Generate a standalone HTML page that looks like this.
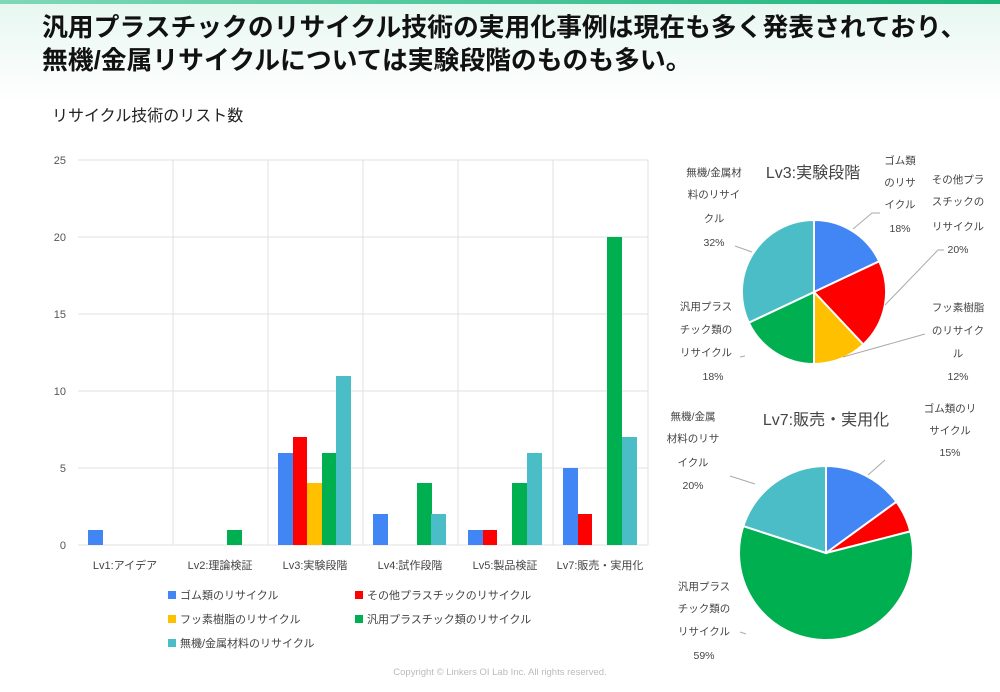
<!DOCTYPE html><html><head><meta charset="utf-8"><style>
body{margin:0;width:1000px;height:692px;overflow:hidden;font-family:"Liberation Sans","Noto Sans CJK JP",sans-serif;background:#fff;position:relative}
.top{position:absolute;left:0;top:0;width:1000px;height:4px;background:linear-gradient(90deg,#7fd8b8,#19b47a)}
.hdr{position:absolute;left:0;top:4px;width:1000px;height:100px;background:linear-gradient(180deg,#e8f7f1,#fff)}
h1{position:absolute;left:42px;top:12px;margin:0;font-size:25.8px;line-height:33px;font-weight:bold;color:#111;white-space:nowrap}
</style></head><body>
<div class="hdr"></div><div class="top"></div>
<h1>汎用プラスチックのリサイクル技術の実用化事例は現在も多く発表されており、<br>無機/金属リサイクルについては実験段階のものも多い。</h1>
<svg width="1000" height="692" style="position:absolute;left:0;top:0" font-family="Liberation Sans,Noto Sans CJK JP,sans-serif">
<text x="52" y="121" font-size="16" fill="#222">リサイクル技術のリスト数</text>
<g stroke="#e0e0e0" stroke-width="1">
<line x1="78" y1="160" x2="648" y2="160"/><line x1="78" y1="237" x2="648" y2="237"/><line x1="78" y1="314" x2="648" y2="314"/><line x1="78" y1="391" x2="648" y2="391"/><line x1="78" y1="468" x2="648" y2="468"/><line x1="78" y1="545" x2="648" y2="545"/>
<line x1="173" y1="160" x2="173" y2="545"/><line x1="268" y1="160" x2="268" y2="545"/><line x1="363" y1="160" x2="363" y2="545"/><line x1="458" y1="160" x2="458" y2="545"/><line x1="553" y1="160" x2="553" y2="545"/><line x1="648" y1="160" x2="648" y2="545"/>
</g>
<g font-size="11" fill="#555" text-anchor="end"><text x="66" y="164">25</text><text x="66" y="241">20</text><text x="66" y="318">15</text><text x="66" y="395">10</text><text x="66" y="472">5</text><text x="66" y="549">0</text></g>
<g>
<rect x="88" y="530" width="15" height="15" fill="#4285f4"/>
<rect x="227" y="530" width="15" height="15" fill="#00b050"/>
<rect x="278" y="453" width="15" height="92" fill="#4285f4"/><rect x="293" y="437" width="14" height="108" fill="#ff0000"/><rect x="307" y="483" width="15" height="62" fill="#ffc000"/><rect x="322" y="453" width="14" height="92" fill="#00b050"/><rect x="336" y="376" width="15" height="169" fill="#4bbdc6"/>
<rect x="373" y="514" width="15" height="31" fill="#4285f4"/><rect x="417" y="483" width="15" height="62" fill="#00b050"/><rect x="431" y="514" width="15" height="31" fill="#4bbdc6"/>
<rect x="468" y="530" width="15" height="15" fill="#4285f4"/><rect x="483" y="530" width="14" height="15" fill="#ff0000"/><rect x="512" y="483" width="15" height="62" fill="#00b050"/><rect x="527" y="453" width="15" height="92" fill="#4bbdc6"/>
<rect x="563" y="468" width="15" height="77" fill="#4285f4"/><rect x="578" y="514" width="14" height="31" fill="#ff0000"/><rect x="607" y="237" width="15" height="308" fill="#00b050"/><rect x="622" y="437" width="15" height="108" fill="#4bbdc6"/>
</g>
<g font-size="11" fill="#444" text-anchor="middle"><text x="125" y="569">Lv1:アイデア</text><text x="220" y="569">Lv2:理論検証</text><text x="315" y="569">Lv3:実験段階</text><text x="410" y="569">Lv4:試作段階</text><text x="505" y="569">Lv5:製品検証</text><text x="600" y="569">Lv7:販売・実用化</text></g>
<g font-size="11" fill="#444">
<rect x="168" y="591" width="8" height="8" fill="#4285f4"/><text x="180" y="599">ゴム類のリサイクル</text>
<rect x="355" y="591" width="8" height="8" fill="#ff0000"/><text x="367" y="599">その他プラスチックのリサイクル</text>
<rect x="168" y="615" width="8" height="8" fill="#ffc000"/><text x="180" y="623">フッ素樹脂のリサイクル</text>
<rect x="355" y="615" width="8" height="8" fill="#00b050"/><text x="367" y="623">汎用プラスチック類のリサイクル</text>
<rect x="168" y="639" width="8" height="8" fill="#4bbdc6"/><text x="180" y="647">無機/金属材料のリサイクル</text>
</g>
<g stroke="#fff" stroke-width="2">
<path d="M814,292 L814,220 A72,72 0 0 1 879.2,261.3Z" fill="#4285f4"/>
<path d="M814,292 L879.2,261.3 A72,72 0 0 1 863.3,344.5Z" fill="#ff0000"/>
<path d="M814,292 L863.3,344.5 A72,72 0 0 1 814,364Z" fill="#ffc000"/>
<path d="M814,292 L814,364 A72,72 0 0 1 748.8,322.7Z" fill="#00b050"/>
<path d="M814,292 L748.8,322.7 A72,72 0 0 1 814,220Z" fill="#4bbdc6"/>
<path d="M826,553 L826,466 A87,87 0 0 1 896.4,501.8Z" fill="#4285f4"/>
<path d="M826,553 L896.4,501.8 A87,87 0 0 1 910.3,531.4Z" fill="#ff0000"/>
<path d="M826,553 L910.3,531.4 A87,87 0 1 1 743.3,526.1Z" fill="#00b050"/>
<path d="M826,553 L743.3,526.1 A87,87 0 0 1 826,466Z" fill="#4bbdc6"/>
</g>
<g stroke="#aaa" stroke-width="1" fill="none">
<polyline points="853,229 872,213 880,213"/><polyline points="885,305 938,250 944,250"/><polyline points="843,357 925,334"/><polyline points="740,357 745,356"/><polyline points="752,252 735,246"/>
<polyline points="868,475 885,460"/><polyline points="755,484 730,476"/><polyline points="740,632 746,634"/>
</g>
<text x="813" y="178" font-size="16" fill="#444" text-anchor="middle">Lv3:実験段階</text>
<text x="826" y="425" font-size="16" fill="#444" text-anchor="middle">Lv7:販売・実用化</text>
<g font-size="10.5" fill="#444" text-anchor="middle">
<text x="900" y="164">ゴム類</text><text x="900" y="186">のリサ</text><text x="900" y="208">イクル</text><text x="900" y="232">18%</text>
<text x="958" y="183">その他プラ</text><text x="958" y="205">スチックの</text><text x="958" y="230">リサイクル</text><text x="958" y="253">20%</text>
<text x="958" y="311">フッ素樹脂</text><text x="958" y="334">のリサイク</text><text x="958" y="357">ル</text><text x="958" y="380">12%</text>
<text x="706" y="310">汎用プラス</text><text x="706" y="333">チック類の</text><text x="706" y="356">リサイクル</text><text x="713" y="380">18%</text>
<text x="714" y="176">無機/金属材</text><text x="714" y="198">料のリサイ</text><text x="714" y="222">クル</text><text x="714" y="246">32%</text>
<text x="950" y="412">ゴム類のリ</text><text x="950" y="434">サイクル</text><text x="950" y="456">15%</text>
<text x="693" y="420">無機/金属</text><text x="693" y="442">材料のリサ</text><text x="693" y="466">イクル</text><text x="693" y="489">20%</text>
<text x="704" y="590">汎用プラス</text><text x="704" y="612">チック類の</text><text x="704" y="635">リサイクル</text><text x="704" y="659">59%</text>
</g>
<text x="500" y="675" font-size="9.5" fill="#bbb" text-anchor="middle">Copyright © Linkers OI Lab Inc. All rights reserved.</text>
</svg>
</body></html>
